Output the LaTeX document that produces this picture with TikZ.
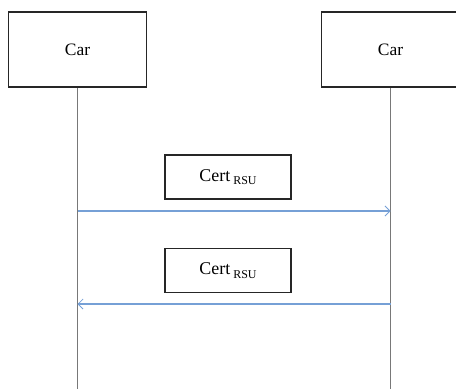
\documentclass[tikz,border=0pt]{standalone}
\usepackage{fontspec}
\setmainfont{Liberation Serif}
\usetikzlibrary{arrows.meta}
\definecolor{msgblue}{RGB}{118,160,214}
\definecolor{lifegray}{RGB}{120,120,120}
\tikzset{
  actor/.style={draw=black!85, line width=1.8bp, minimum width=138bp, minimum height=75bp, inner sep=0pt, font=\fontsize{17.5}{20}\selectfont},
  certbox/.style={draw=black!85, line width=1.6bp, minimum width=126bp, minimum height=44bp, inner sep=0pt, font=\fontsize{18}{20}\selectfont},
  lifeline/.style={draw=lifegray, line width=1.2bp},
  msg/.style={draw=msgblue, line width=1.2bp, -{Straight Barb[length=5bp,width=10bp,line width=0.8bp]}},
}
\newcommand{\certlabel}{Cert\,\raisebox{-0.45ex}{\fontsize{12}{14}\selectfont RSU}}
\begin{document}
\begin{tikzpicture}[x=1bp,y=-1bp]
  \useasboundingbox (0,0) rectangle (456,389);
  \clip (0,0) rectangle (456,389);
  % participants
  \node[actor] (carA) at (77.5,49.5) {Car};
  \node[actor] (carB) at (390.5,49.5) {Car};
  % lifelines
  \coordinate (endA) at (77.5,389);
  \coordinate (endB) at (390.5,389);
  \draw[lifeline] (carA.south) -- (endA);
  \draw[lifeline] (carB.south) -- (endB);
  % messages
  \node[certbox] (cert1) at (228,177) {\certlabel};
  \node[certbox] (cert2) at (228,270.5) {\certlabel};
  \coordinate (m1a) at (77.5,211);
  \coordinate (m1b) at (390.5,211);
  \coordinate (m2a) at (77.5,304);
  \coordinate (m2b) at (390.5,304);
  \draw[msg] (m1a) -- (m1b);
  \draw[msg] (m2b) -- (m2a);
\end{tikzpicture}
\end{document}
